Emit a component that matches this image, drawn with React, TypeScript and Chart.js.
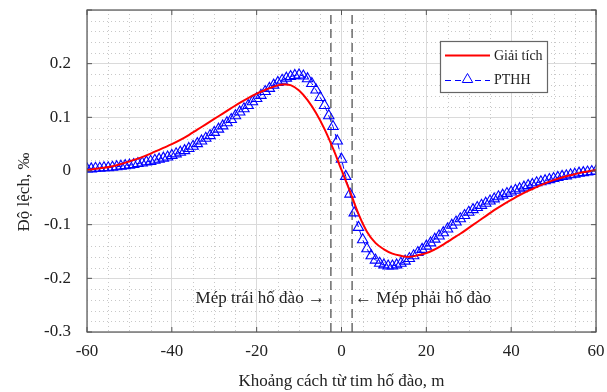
import React, { useEffect, useRef } from 'react';
import { Chart, registerables } from 'chart.js';

Chart.register(...registerables);

const FONT = '"Liberation Serif", "Times New Roman", serif';

// Giải tích (analytical) – x every 2 m
const giaiTichX = [
  -60, -58, -56, -54, -52, -50, -48, -46, -44, -42,
  -40, -38, -36, -34, -32, -30, -28, -26, -24, -22,
  -20, -18, -16, -14, -12, -10, -8, -6, -4, -2,
  0, 2, 4, 6, 8, 10, 12, 14, 16, 18,
  20, 22, 24, 26, 28, 30, 32, 34, 36, 38,
  40, 42, 44, 46, 48, 50, 52, 54, 56, 58, 60,
];
const giaiTichY = [
  0.002, 0.004, 0.006, 0.009, 0.013, 0.018, 0.023, 0.029, 0.036, 0.043,
  0.050, 0.058, 0.067, 0.077, 0.087, 0.097, 0.107, 0.117, 0.127, 0.136,
  0.144, 0.151, 0.157, 0.161, 0.160, 0.150, 0.132, 0.108, 0.078, 0.042,
  0.002, -0.038, -0.080, -0.113, -0.134, -0.146, -0.154, -0.158, -0.160, -0.157,
  -0.153, -0.146, -0.137, -0.127, -0.117, -0.106, -0.095, -0.084, -0.073, -0.063,
  -0.054, -0.045, -0.037, -0.030, -0.023, -0.017, -0.012, -0.008, -0.004, -0.001, 0.002,
];

// PTHH (finite element) – x every 1 m
const pthhX = [
  -60, -59, -58, -57, -56, -55, -54, -53, -52, -51,
  -50, -49, -48, -47, -46, -45, -44, -43, -42, -41,
  -40, -39, -38, -37, -36, -35, -34, -33, -32, -31,
  -30, -29, -28, -27, -26, -25, -24, -23, -22, -21,
  -20, -19, -18, -17, -16, -15, -14, -13, -12, -11,
  -10, -9, -8, -7, -6, -5, -4, -3, -2, -1,
  0, 1, 2, 3, 4, 5, 6, 7, 8, 9,
  10, 11, 12, 13, 14, 15, 16, 17, 18, 19,
  20, 21, 22, 23, 24, 25, 26, 27, 28, 29,
  30, 31, 32, 33, 34, 35, 36, 37, 38, 39,
  40, 41, 42, 43, 44, 45, 46, 47, 48, 49,
  50, 51, 52, 53, 54, 55, 56, 57, 58, 59, 60,
];
const pthhY = [
  0.004, 0.004, 0.005, 0.005, 0.006, 0.006, 0.007, 0.008, 0.009, 0.010,
  0.011, 0.012, 0.014, 0.015, 0.017, 0.018, 0.020, 0.022, 0.024, 0.026,
  0.029, 0.032, 0.035, 0.038, 0.042, 0.046, 0.051, 0.056, 0.061, 0.066,
  0.072, 0.078, 0.084, 0.090, 0.096, 0.103, 0.110, 0.116, 0.122, 0.129,
  0.135, 0.141, 0.148, 0.154, 0.160, 0.165, 0.169, 0.173, 0.176, 0.178,
  0.179, 0.177, 0.172, 0.163, 0.151, 0.137, 0.122, 0.103, 0.083, 0.056,
  0.022, -0.010, -0.043, -0.078, -0.105, -0.128, -0.145, -0.158, -0.166, -0.172,
  -0.175, -0.177, -0.177, -0.175, -0.172, -0.168, -0.163, -0.158, -0.152, -0.146,
  -0.140, -0.134, -0.127, -0.121, -0.115, -0.108, -0.101, -0.095, -0.089, -0.083,
  -0.077, -0.072, -0.068, -0.064, -0.060, -0.056, -0.052, -0.048, -0.045, -0.042,
  -0.039, -0.036, -0.033, -0.030, -0.027, -0.025, -0.022, -0.020, -0.018, -0.016,
  -0.014, -0.012, -0.010, -0.009, -0.007, -0.006, -0.004, -0.003, -0.002, -0.001, 0.000,
];

// Excavation edges
const edgeX = [-2.5, 2.5];

const xRange = [-60, 60];
const yRange = [-0.3, 0.3];
const xMajor = [-60, -40, -20, 0, 20, 40, 60];
const yMajor = [-0.3, -0.2, -0.1, 0, 0.1, 0.2, 0.3];
const xMinor = [-55, -50, -45, -35, -30, -25, -15, -10, -5, 5, 10, 15, 25, 30, 35, 45, 50, 55];
const yMinor = [
  -0.28, -0.26, -0.24, -0.22, -0.18, -0.16, -0.14, -0.12, -0.08, -0.06, -0.04, -0.02,
  0.02, 0.04, 0.06, 0.08, 0.12, 0.14, 0.16, 0.18, 0.22, 0.24, 0.26, 0.28,
];

const legendLabels = ['Giải tích', 'PTHH'];
const xTitle = 'Khoảng cách từ tim hố đào, m';
const yTitle = 'Độ lệch, ‰';
const leftEdgeLabel = 'Mép trái hố đào →';
const rightEdgeLabel = '← Mép phải hố đào';

const RED = '#ff0000';
const BLUE = '#0000ff';

function drawTriangle(ctx: CanvasRenderingContext2D, cx: number, cy: number, r: number) {
  ctx.beginPath();
  ctx.moveTo(cx, cy - r);
  ctx.lineTo(cx + r * 0.866, cy + r * 0.5);
  ctx.lineTo(cx - r * 0.866, cy + r * 0.5);
  ctx.closePath();
  ctx.stroke();
}

const decorPlugin = {
  id: 'decor',
  beforeDatasetsDraw(chart: any) {
    const { ctx, chartArea: a, scales } = chart;
    const x = scales.x;
    const y = scales.y;
    ctx.save();
    ctx.strokeStyle = '#c8c8c8';
    ctx.lineWidth = 1;
    ctx.setLineDash([1, 3]);
    xMinor.forEach((v) => {
      const px = Math.round(x.getPixelForValue(v)) + 0.5;
      ctx.beginPath();
      ctx.moveTo(px, a.top);
      ctx.lineTo(px, a.bottom);
      ctx.stroke();
    });
    yMinor.forEach((v) => {
      const py = Math.round(y.getPixelForValue(v)) + 0.5;
      ctx.beginPath();
      ctx.moveTo(a.left, py);
      ctx.lineTo(a.right, py);
      ctx.stroke();
    });
    ctx.restore();
  },
  afterDatasetsDraw(chart: any) {
    const { ctx, chartArea: a, scales } = chart;
    const x = scales.x;
    const y = scales.y;
    ctx.save();
    // box
    ctx.setLineDash([]);
    ctx.strokeStyle = '#555';
    ctx.lineWidth = 1.2;
    ctx.strokeRect(a.left, a.top, a.right - a.left, a.bottom - a.top);
    // inward ticks
    const tl = 5;
    ctx.lineWidth = 1;
    xMajor.forEach((v) => {
      const px = x.getPixelForValue(v);
      ctx.beginPath();
      ctx.moveTo(px, a.bottom);
      ctx.lineTo(px, a.bottom - tl);
      ctx.moveTo(px, a.top);
      ctx.lineTo(px, a.top + tl);
      ctx.stroke();
    });
    yMajor.forEach((v) => {
      const py = y.getPixelForValue(v);
      ctx.beginPath();
      ctx.moveTo(a.left, py);
      ctx.lineTo(a.left + tl, py);
      ctx.moveTo(a.right, py);
      ctx.lineTo(a.right - tl, py);
      ctx.stroke();
    });

    // legend
    const lx = 440.5, ly = 41.5, lw = 107, lh = 51;
    ctx.fillStyle = '#ffffff';
    ctx.fillRect(lx, ly, lw, lh);
    ctx.strokeStyle = '#666';
    ctx.lineWidth = 1.2;
    ctx.strokeRect(lx, ly, lw, lh);
    ctx.strokeStyle = RED;
    ctx.lineWidth = 2;
    ctx.beginPath();
    ctx.moveTo(445, 55.5);
    ctx.lineTo(490, 55.5);
    ctx.stroke();
    ctx.strokeStyle = BLUE;
    ctx.lineWidth = 1;
    ctx.setLineDash([6, 4]);
    ctx.beginPath();
    ctx.moveTo(445, 80.5);
    ctx.lineTo(490, 80.5);
    ctx.stroke();
    ctx.setLineDash([]);
    ctx.fillRect(461, 73, 13, 10);
    drawTriangle(ctx, 467.5, 79.5, 6);
    ctx.fillStyle = '#222';
    ctx.font = `14px ${FONT}`;
    ctx.textAlign = 'left';
    ctx.textBaseline = 'middle';
    ctx.fillText(legendLabels[0], 494, 56);
    ctx.fillText(legendLabels[1], 494, 80);

    // edge annotations
    ctx.font = `17px ${FONT}`;
    ctx.textAlign = 'right';
    ctx.fillText(leftEdgeLabel, x.getPixelForValue(edgeX[0]) - 6, 299);
    ctx.textAlign = 'left';
    ctx.fillText(rightEdgeLabel, x.getPixelForValue(edgeX[1]) + 3, 299);

    // axis titles
    ctx.textAlign = 'center';
    ctx.fillText(xTitle, (a.left + a.right) / 2, 382);
    ctx.translate(25, 192);
    ctx.rotate(-Math.PI / 2);
    ctx.fillText(yTitle, 0, 0);
    ctx.restore();
  },
};

export default function App() {
  const ref = useRef<HTMLCanvasElement | null>(null);
  useEffect(() => {
    if (!ref.current) return;
    const chart = new Chart(ref.current, {
      type: 'line',
      data: {
        datasets: [
          {
            label: legendLabels[0],
            data: giaiTichX.map((v, i) => ({ x: v, y: giaiTichY[i] })),
            borderColor: RED,
            borderWidth: 2,
            pointRadius: 0,
            tension: 0.4,
            fill: false,
          },
          {
            label: legendLabels[1],
            data: pthhX.map((v, i) => ({ x: v, y: pthhY[i] })),
            borderColor: BLUE,
            borderWidth: 1,
            borderDash: [6, 4],
            pointStyle: 'triangle',
            pointRadius: 6,
            pointBorderWidth: 1.1,
            pointBorderColor: BLUE,
            pointBackgroundColor: 'rgba(0,0,0,0)',
            fill: false,
          },
          {
            label: 'edge-left',
            data: yRange.map((v) => ({ x: edgeX[0], y: v })),
            borderColor: '#555',
            borderWidth: 1.3,
            borderDash: [9, 5],
            pointRadius: 0,
            fill: false,
          },
          {
            label: 'edge-right',
            data: yRange.map((v) => ({ x: edgeX[1], y: v })),
            borderColor: '#555',
            borderWidth: 1.3,
            borderDash: [9, 5],
            pointRadius: 0,
            fill: false,
          },
        ],
      },
      options: {
        animation: false,
        responsive: false,
        layout: { padding: { top: 10, right: 11, left: 0, bottom: 0 } },
        plugins: { legend: { display: false }, tooltip: { enabled: false } },
        scales: {
          x: {
            type: 'linear',
            min: xRange[0],
            max: xRange[1],
            afterFit: (s: any) => { s.height = 60; s.paddingLeft = 0; s.paddingRight = 0; },
            afterBuildTicks: (s: any) => { s.ticks = xMajor.map((v) => ({ value: v })); },
            ticks: {
              padding: 9,
              color: '#222',
              font: { family: FONT, size: 17 },
              callback: (v: any) => String(v),
            },
            grid: { color: '#dadada', lineWidth: 1, drawTicks: false },
            border: { display: false },
          },
          y: {
            type: 'linear',
            min: yRange[0],
            max: yRange[1],
            afterFit: (s: any) => { s.width = 87; s.paddingTop = 0; s.paddingBottom = 0; },
            afterBuildTicks: (s: any) => { s.ticks = yMajor.map((v) => ({ value: v })); },
            ticks: {
              padding: 16,
              color: '#222',
              font: { family: FONT, size: 17 },
              callback: (v: any) => {
                const r = Math.round(Number(v) * 10) / 10;
                if (r >= 0.3) return '';
                return r === 0 ? '0' : String(r);
              },
            },
            grid: { color: '#dadada', lineWidth: 1, drawTicks: false },
            border: { display: false },
          },
        },
      },
      plugins: [decorPlugin],
    } as any);
    return () => chart.destroy();
  }, []);
  return (
    <canvas
      ref={ref}
      width={607}
      height={392}
      style={{ position: 'absolute', left: 0, top: 0, display: 'block', background: '#fff' }}
    />
  );
}
